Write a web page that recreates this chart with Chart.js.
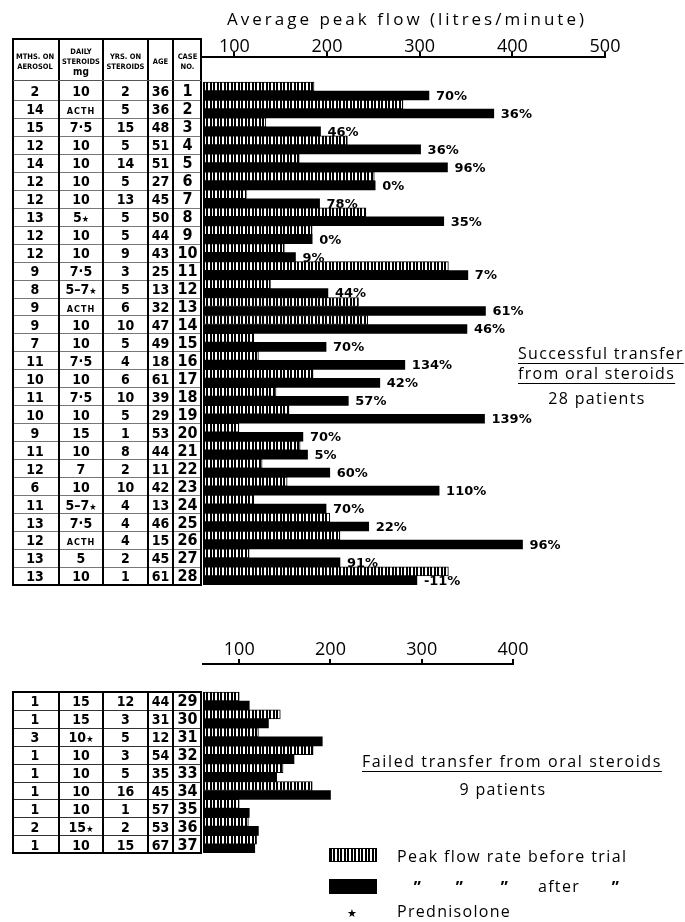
<!DOCTYPE html>
<html>
<head>
<meta charset="utf-8">
<script src="https://cdn.jsdelivr.net/npm/chart.js@4.4.0/dist/chart.umd.min.js"></script>
<style>
  body { margin: 0; width: 685px; height: 922px; position: relative; overflow: hidden; background: #fff; color: #000; font-family: "Open Sans", sans-serif; }
  canvas { position: absolute; left: 0; }
  #topChart { top: 0; }
  #botChart { top: 600px; }
  .t { position: absolute; white-space: nowrap; line-height: 1; }
  .cell { font-family: "Liberation Sans Narrow", "DejaVu Sans Condensed", sans-serif; font-weight: bold; font-size: 14px; }
  .case { font-family: "Liberation Sans Narrow", "DejaVu Sans Condensed", sans-serif; font-weight: bold; font-size: 16px; }
  .hd { font-family: "Liberation Sans Narrow", "DejaVu Sans Condensed", sans-serif; font-weight: bold; font-size: 7.5px; }
  .acth { font-size: 9px; letter-spacing: 1px; }
  .star { font-size: 9px; }
  .ln { position: absolute; background: #000; }
  .note { font-family: "Open Sans", sans-serif; font-size: 16px; letter-spacing: 1.3px; }
  .u { text-decoration: underline; text-underline-offset: 4px; }
</style>
</head>
<body>
<canvas id="topChart" width="685" height="600"></canvas>
<canvas id="botChart" width="685" height="260"></canvas>
<script>
// -------------------- DATA --------------------
const casesTop = [1,2,3,4,5,6,7,8,9,10,11,12,13,14,15,16,17,18,19,20,21,22,23,24,25,26,27,28];
const monthsTop = [2,14,15,12,14,12,12,13,12,12,9,8,9,9,7,11,10,11,10,9,11,12,6,11,13,12,13,13];
const steroidsTop = ["10","ACTH","7·5","10","10","10","10","5★","10","10","7·5","5–7★","ACTH","10","10","7·5","10","7·5","10","15","10","7","10","5–7★","7·5","ACTH","5","10"];
const yearsTop = [2,5,15,5,14,5,13,5,5,9,3,5,6,10,5,4,6,10,5,1,8,2,10,4,4,4,2,1];
const agesTop = [36,36,48,51,51,27,45,50,44,43,25,13,32,47,49,18,61,39,29,53,44,11,42,13,46,15,45,61];
const beforeTop = [186,282,134,222,170,251,113,242,184,154,331,139,234,244,121,126,185,145,159,105,171,130,157,121,203,214,116,331];
const afterTop = [310,380,193,301,330,252,192,326,184,166,352,201,371,351,199,284,257,223,370,174,179,203,321,199,245,411,214,297];
const changeTop = ["70%","36%","46%","36%","96%","0%","78%","35%","0%","9%","7%","44%","61%","46%","70%","134%","42%","57%","139%","70%","5%","60%","110%","70%","22%","96%","91%","-11%"];
const ticksTop = [100,200,300,400,500];

const casesBot = [29,30,31,32,33,34,35,36,37];
const monthsBot = [1,1,3,1,1,1,1,2,1];
const steroidsBot = ["15","15","10★","10","10","10","10","15★","10"];
const yearsBot = [12,3,5,3,5,16,1,2,15];
const agesBot = [44,31,12,54,35,45,57,53,67];
const beforeBot = [100,145,121,181,148,180,100,110,119];
const afterBot = [111,132,191,160,141,200,111,121,117];
const ticksBot = [100,200,300,400];

// -------------------- HELPERS --------------------
function addText(txt, x, y, cls, align, html) {
  const d = document.createElement("div");
  d.className = "t " + (cls || "");
  if (html) d.innerHTML = txt; else d.textContent = txt;
  d.style.left = x + "px";
  d.style.top = y + "px";
  const tx = align === "center" ? "-50%" : align === "right" ? "-100%" : "0";
  d.style.transform = "translate(" + tx + ",-50%)";
  document.body.appendChild(d);
  return d;
}

function addLine(x, y, w, h, color) {
  const d = document.createElement("div");
  d.className = "ln";
  d.style.left = x + "px"; d.style.top = y + "px";
  d.style.width = w + "px"; d.style.height = h + "px";
  if (color) d.style.background = color;
  document.body.appendChild(d);
}

function steroidHtml(s) {
  if (s === "ACTH") return '<span class="acth">ACTH</span>';
  return s.replace("★", '<span class="star">★</span>');
}

// table columns: left edges and centres
const colX = [13, 59, 103, 148, 173, 201];
const colC = [35, 81, 125.5, 160.5, 187.5];

function drawTable(top, pitch, n, months, steroids, years, ages, cases, rowColor) {
  const bottom = top + pitch * n;
  for (let i = 0; i < n; i++) {
    const cy = top + pitch * (i + 0.5) + 0.5;
    addText(String(months[i]), colC[0], cy, "cell", "center");
    addText(steroidHtml(steroids[i]), colC[1], cy, "cell", "center", true);
    addText(String(years[i]), colC[2], cy, "cell", "center");
    addText(String(ages[i]), colC[3], cy, "cell", "center");
    addText(String(cases[i]), colC[4], cy, "case", "center");
    if (i > 0) addLine(colX[0], Math.round(top + pitch * i), colX[5] - colX[0], 1, rowColor);
  }
  addLine(colX[0] - 1, Math.round(bottom) - 1, colX[5] - colX[0] + 2, 2);
  return bottom;
}

// -------------------- TOP TABLE --------------------
const topHead = 38, topRows = 82, pitchTop = 17.96;
const topBottom = drawTable(topRows, pitchTop, 28, monthsTop, steroidsTop, yearsTop, agesTop, casesTop, "#777");
colX.forEach(x => addLine(x - 1, topHead, 2, topBottom - topHead));
addLine(colX[0] - 1, topHead, colX[5] - colX[0] + 2, 2);
addLine(colX[0], 80, colX[5] - colX[0], 1, "#555");
addText("MTHS. ON", colC[0], 57, "hd", "center");
addText("AEROSOL", colC[0], 66.5, "hd", "center");
addText("DAILY", colC[1], 51.5, "hd", "center");
addText("STEROIDS", colC[1], 62, "hd", "center");
addText('<span style="font-size:10px">mg</span>', colC[1], 71.5, "hd", "center", true);
addText("YRS. ON", colC[2], 57, "hd", "center");
addText("STEROIDS", colC[2], 66.5, "hd", "center");
addText("AGE", colC[3], 61.5, "hd", "center");
addText("CASE", colC[4], 57, "hd", "center");
addText("NO.", colC[4], 66.5, "hd", "center");

// -------------------- BOTTOM TABLE --------------------
const botTop = 692, pitchBot = 17.9;
const botBottom = drawTable(botTop, pitchBot, 9, monthsBot, steroidsBot, yearsBot, agesBot, casesBot, "#333");
colX.forEach(x => addLine(x - 1, botTop, 2, botBottom - botTop));
addLine(colX[0] - 1, botTop - 1, colX[5] - colX[0] + 2, 2);

// -------------------- TEXT --------------------
addText("Average peak flow (litres/minute)", 407, 18, "note", "center").style.cssText += "font-size:17px;letter-spacing:3px;";
addText("Successful transfer", 518, 353, "note u", "left");
addText("from oral steroids", 518, 373, "note u", "left");
addText("28 patients", 597, 398, "note", "center");
addText("Failed transfer from oral steroids", 362, 761, "note u", "left").style.letterSpacing = "1.6px";
addText("9 patients", 503, 789, "note", "center");

// legend
const sw1 = document.createElement("div");
sw1.style.cssText = "position:absolute;left:329px;top:848px;width:46px;height:12px;border:1px solid #000;background:repeating-linear-gradient(90deg,#000 0 2px,#fff 2px 3.5px);";
document.body.appendChild(sw1);
addLine(329, 879, 48, 15);
addText("Peak flow rate before trial", 397, 856, "note", "left").style.letterSpacing = "1.4px";
addText("”", 418, 887, "note", "center").style.fontWeight = "bold";
addText("”", 460, 887, "note", "center").style.fontWeight = "bold";
addText("”", 505, 887, "note", "center").style.fontWeight = "bold";
addText("after", 538, 886, "note", "left");
addText("”", 616, 887, "note", "center").style.fontWeight = "bold";
addText("★", 353, 912, "note", "center").style.fontSize = "11px";
addText("Prednisolone", 397, 911, "note", "left");

// -------------------- CHARTS --------------------
function hatch(ctx) {
  const c = document.createElement("canvas");
  c.width = 7; c.height = 1;
  const g = c.getContext("2d");
  g.fillStyle = "#fff"; g.fillRect(0, 0, 7, 1);
  g.fillStyle = "#000"; g.fillRect(0, 0, 2, 1); g.fillRect(3, 0, 2, 1);
  return ctx.createPattern(c, "repeat");
}

const pctLabels = {
  id: "pctLabels",
  afterDatasetsDraw(chart, args, opts) {
    if (!opts.labels) return;
    const meta = chart.getDatasetMeta(1);
    const ctx = chart.ctx;
    ctx.save();
    ctx.font = 'bold 13px "DejaVu Sans"';
    ctx.fillStyle = "#000";
    ctx.textBaseline = "middle";
    meta.data.forEach((bar, i) => {
      ctx.fillText(opts.labels[i], bar.x + 7, bar.y + 1);
    });
    ctx.restore();
  }
};

function makeChart(id, before, after, xMin, xMax, ticks, yMin, yMax, axisH, tickPad, pad, labels) {
  const ctx = document.getElementById(id).getContext("2d");
  return new Chart(ctx, {
    type: "bar",
    data: {
      datasets: [{
        label: "Peak flow rate before trial",
        data: before.map((v, i) => ({ x: v, y: i })),
        backgroundColor: hatch(ctx),
        borderColor: "#000",
        borderWidth: 1,
        barThickness: 9
      }, {
        label: "after",
        data: after.map((v, i) => ({ x: v, y: i })),
        backgroundColor: "#000",
        borderWidth: 0,
        barThickness: 9
      }]
    },
    options: {
      responsive: false,
      animation: false,
      indexAxis: "y",
      layout: { padding: pad },
      plugins: {
        legend: { display: false },
        tooltip: { enabled: false },
        pctLabels: { labels: labels }
      },
      scales: {
        y: { type: "linear", reverse: true, bounds: "data", offset: false, min: yMin, max: yMax, display: false },
        x: {
          type: "linear",
          position: "top",
          bounds: "data",
          min: xMin,
          max: xMax,
          afterBuildTicks: s => { s.ticks = ticks.map(v => ({ value: v })); },
          afterFit: s => { s.height = axisH; },
          grid: { drawOnChartArea: false, drawTicks: true, tickLength: 5, color: "#000", lineWidth: 2 },
          border: { display: true, color: "#000", width: 2 },
          ticks: { color: "#000", padding: tickPad, font: { family: "Open Sans", size: 18 }, callback: v => String(v) }
        }
      }
    },
    plugins: [pctLabels]
  });
}

makeChart("topChart", beforeTop, afterTop, 66.2, 500, ticksTop, -1.893, 27.506, 57, -6,
  { left: 203, right: 80, top: 0, bottom: 15 }, changeTop);
makeChart("botChart", beforeBot, afterBot, 60.3, 400, ticksBot, -2.067, 8.49, 64, -2,
  { left: 203, right: 172, top: 0, bottom: 7 }, null);
</script>
</body>
</html>
